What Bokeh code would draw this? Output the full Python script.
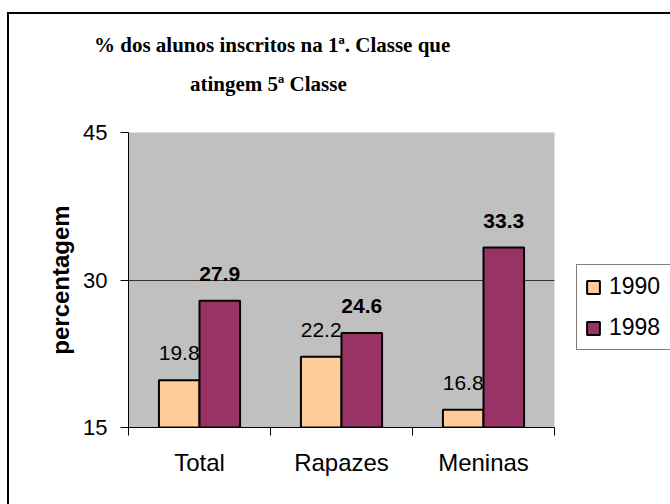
from bokeh.plotting import figure
from bokeh.layouts import row
from bokeh.models import (Range1d, FixedTicker, Legend, LegendItem, Title,
                          LabelSet, ColumnDataSource)
from bokeh.embed import file_html
from bokeh.resources import INLINE
from bokeh.core.properties import value

# ---- data ----
categories = ["Total", "Rapazes", "Meninas"]
series_names = ["1990", "1998"]
values_1990 = [19.8, 22.2, 16.8]
values_1998 = [27.9, 24.6, 33.3]
y_ticks = [15, 30, 45]
title_lines = ["% dos alunos inscritos na 1ª. Classe que", "atingem 5ª Classe"]
y_title = "percentagem"

# ---- style ----
FILL_1990 = "#FFCC99"
FILL_1998 = "#993366"
BG = "#C0C0C0"
SANS = "Liberation Sans"
SERIF = "Liberation Serif"

n = len(categories)
bar_w = 1 / 3.5
centers = [i + 0.5 for i in range(n)]
x1990 = [c - bar_w / 2 for c in centers]
x1998 = [c + bar_w / 2 for c in centers]

H = 490
p = figure(width=546, height=H, output_backend="svg", toolbar_location=None,
           x_range=Range1d(0, n), y_range=Range1d(y_ticks[0], y_ticks[-1]),
           min_border_left=119, min_border_right=1,
           min_border_top=118, min_border_bottom=77)
p.background_fill_color = BG
p.border_fill_color = "white"
p.outline_line_color = None

# grid
p.xgrid.visible = False
p.ygrid.ticker = FixedTicker(ticks=y_ticks)
p.ygrid.grid_line_color = "#303030"
p.ygrid.grid_line_width = 1

# x axis: labels at centres, ticks at boundaries
xa = p.xaxis[0]
xa.ticker = FixedTicker(ticks=centers, minor_ticks=list(range(n + 1)))
xa.major_label_overrides = {c: cat for c, cat in zip(centers, categories)}
xa.major_tick_in = 0
xa.major_tick_out = 0
xa.minor_tick_in = 0
xa.minor_tick_out = 8
xa.minor_tick_line_color = "black"
xa.axis_line_color = "black"
xa.major_label_text_font = SANS
xa.major_label_text_font_size = "24px"
xa.major_label_text_color = "black"
xa.major_label_standoff = 13

# y axis
ya = p.yaxis[0]
ya.ticker = FixedTicker(ticks=y_ticks)
ya.major_tick_in = 0
ya.major_tick_out = 8
ya.major_tick_line_color = "black"
ya.axis_line_color = "black"
ya.major_label_text_font = SANS
ya.major_label_text_font_size = "22px"
ya.major_label_text_color = "black"
ya.major_label_standoff = 13
ya.axis_label = y_title
ya.axis_label_text_font = SANS
ya.axis_label_text_font_style = "bold"
ya.axis_label_text_font_size = "24px"
ya.axis_label_text_color = "black"
ya.axis_label_standoff = 6

# bars
r1 = p.vbar(x=x1990, top=values_1990, bottom=y_ticks[0], width=bar_w,
            fill_color=FILL_1990, line_color="black", line_width=2)
r2 = p.vbar(x=x1998, top=values_1998, bottom=y_ticks[0], width=bar_w,
            fill_color=FILL_1998, line_color="black", line_width=2)

# data labels
src1 = ColumnDataSource(dict(x=x1990, y=values_1990, t=[f"{v}" for v in values_1990]))
src2 = ColumnDataSource(dict(x=x1998, y=values_1998, t=[f"{v}" for v in values_1998]))
p.add_layout(LabelSet(x="x", y="y", text="t", source=src1, text_align="center",
                      text_baseline="alphabetic", y_offset=20,
                      text_font=value(SANS), text_font_size="21px",
                      text_color="black"))
p.add_layout(LabelSet(x="x", y="y", text="t", source=src2, text_align="center",
                      text_baseline="alphabetic", y_offset=20,
                      text_font=value(SANS), text_font_size="21px",
                      text_font_style="bold", text_color="black"))

# title (two lines, one Title per line; first added sits nearest the frame)
t2 = Title(text=title_lines[1], align="left", offset=61.5, standoff=74,
           text_font=SERIF, text_font_style="bold", text_font_size="21px",
           text_color="black")
t1 = Title(text=title_lines[0], align="left", offset=-34.5, standoff=-48,
           text_font=SERIF, text_font_style="bold", text_font_size="21px",
           text_color="black")
p.add_layout(t2, "above")
p.add_layout(t1, "above")

# legend lives in its own small panel to the right (hidden copies of the bars
# give it its swatches)
lf = figure(width=115, height=H, output_backend="svg", toolbar_location=None,
            x_range=Range1d(0, n), y_range=Range1d(y_ticks[0], y_ticks[-1]),
            x_axis_location=None, y_axis_location=None,
            min_border_left=0, min_border_right=0,
            min_border_top=0, min_border_bottom=0)
lf.grid.visible = False
lf.outline_line_color = None
lf.background_fill_color = "white"
lf.border_fill_color = "white"
k1 = lf.vbar(x=x1990, top=values_1990, bottom=y_ticks[0], width=bar_w,
             fill_color=FILL_1990, line_color="black", line_width=2)
k2 = lf.vbar(x=x1998, top=values_1998, bottom=y_ticks[0], width=bar_w,
             fill_color=FILL_1998, line_color="black", line_width=2)
k1.visible = False
k2.visible = False
legend = Legend(items=[LegendItem(label=series_names[0], renderers=[k1]),
                       LegendItem(label=series_names[1], renderers=[k2])],
                location=(21, 77), orientation="vertical")
legend.border_line_color = "black"
legend.border_line_width = 1
legend.background_fill_color = "white"
legend.background_fill_alpha = 1
legend.label_text_font = SANS
legend.label_text_font_size = "23px"
legend.label_text_color = "black"
legend.glyph_width = 16
legend.glyph_height = 16
legend.label_standoff = 8
legend.padding = 8
legend.spacing = 14
legend.label_width = 70
legend.margin = 0
lf.add_layout(legend)

layout = row(p, lf)
layout.styles = {"border-left": "2px solid black", "border-top": "2px solid black",
                 "margin-top": "12px", "margin-left": "7px"}

open("out.html", "w").write(file_html(layout, INLINE))
